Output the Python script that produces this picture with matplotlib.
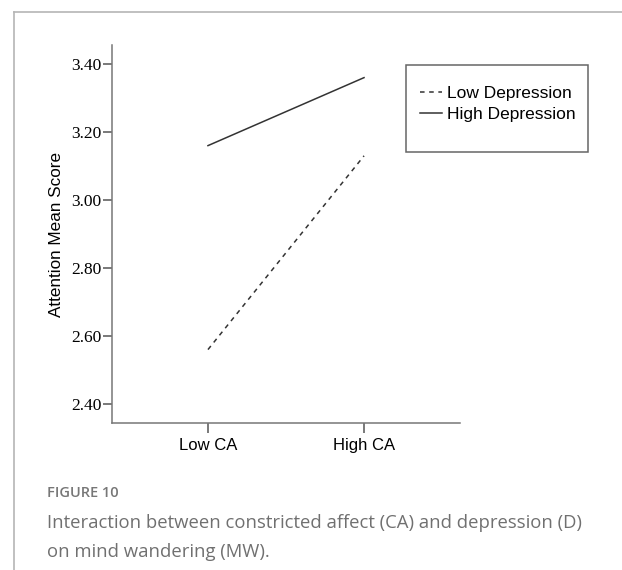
import matplotlib
matplotlib.use("Agg")
import matplotlib.pyplot as plt
from matplotlib.lines import Line2D
from matplotlib.patches import Rectangle

# Data
categories = ["Low CA", "High CA"]
low_depression = [2.56, 3.13]
high_depression = [3.16, 3.36]
y_ticks = [2.40, 2.60, 2.80, 3.00, 3.20, 3.40]
series_labels = ["Low Depression", "High Depression"]

W, H = 622, 570
fig = plt.figure(figsize=(W / 100, H / 100), dpi=100)

def fx(px):
    return px / W

def fy(py):
    return 1 - py / H

ax = fig.add_axes([fx(112), fy(423), fx(460) - fx(112), fy(45) - fy(423)])

x = list(range(len(categories)))
line_col = "#333333"
l1, = ax.plot(x, low_depression, color=line_col, lw=1.1, linestyle=(0, (3, 3)))
l2, = ax.plot(x, high_depression, color=line_col, lw=1.1)

ax.set_xlim(-0.615, 1.615)
ax.set_ylim(2.344, 3.456)
ax.set_xticks(x)
ax.set_xticklabels(categories, fontsize=12, family="Liberation Sans")
ax.set_yticks(y_ticks)
ax.set_yticklabels([f"{v:.2f}" for v in y_ticks], fontsize=12.5, family="Liberation Serif")
ax.set_ylabel("Attention Mean Score", fontsize=12.3, family="Liberation Sans", labelpad=5)

for s in ["top", "right"]:
    ax.spines[s].set_visible(False)
for s in ["left", "bottom"]:
    ax.spines[s].set_color("#777777")
    ax.spines[s].set_linewidth(1.1)
ax.tick_params(axis="y", direction="out", length=6.5, width=1.1, color="#555555", pad=1)
ax.tick_params(axis="x", direction="out", length=7.5, width=1.1, color="#555555", pad=3)

# Legend box
fig.add_artist(Rectangle((fx(406), fy(152)), fx(588) - fx(406), fy(65) - fy(152),
                         transform=fig.transFigure, fill=False, ec="#666666", lw=1.1))
fig.legend([l1, l2], series_labels, loc="upper left",
           bbox_to_anchor=(fx(411), fy(77)), frameon=False, borderpad=0,
           handlelength=1.3, handletextpad=0.25, labelspacing=0.37,
           prop={"family": "Liberation Sans", "size": 12.5})

# Page frame
border = "#b5b5b5"
fig.add_artist(Line2D([fx(14), 1], [fy(12), fy(12)], transform=fig.transFigure, color=border, lw=1.2))
fig.add_artist(Line2D([fx(14), fx(14)], [fy(12), 0], transform=fig.transFigure, color=border, lw=1.2))

# Caption
fig.text(fx(47), fy(493), "FIGURE 10", fontsize=10.5, fontweight="semibold",
         family="Open Sans", color="#777777", va="center", ha="left")
fig.text(fx(47), fy(523), "Interaction between constricted affect (CA) and depression (D)",
         fontsize=13.3, family="Open Sans", color="#707070", va="center", ha="left")
fig.text(fx(47), fy(552), "on mind wandering (MW).",
         fontsize=13.3, family="Open Sans", color="#707070", va="center", ha="left")

fig.savefig("out.png", dpi=100)
